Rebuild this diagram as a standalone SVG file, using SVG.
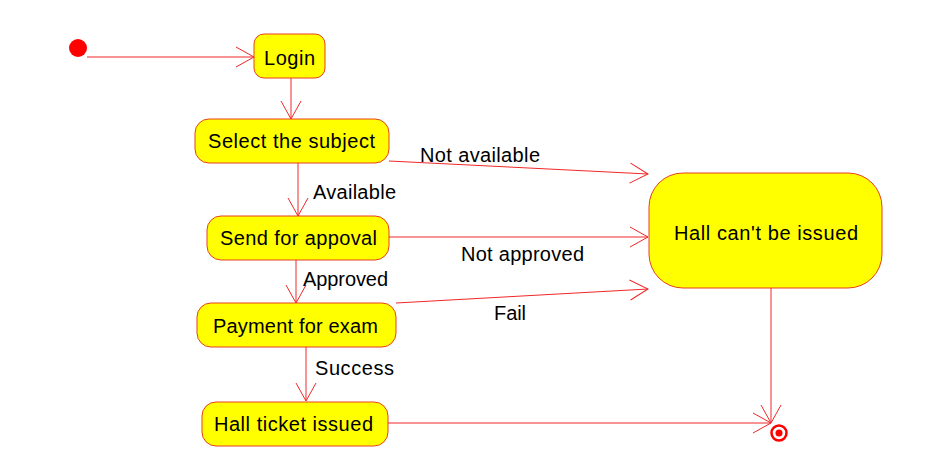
<svg xmlns="http://www.w3.org/2000/svg" width="926" height="468" viewBox="0 0 926 468">
<style>
.st{fill:#ffff00;stroke:#e8401c;stroke-width:1}
.t{font-family:"Liberation Sans",Arial,sans-serif;font-size:20px;fill:#000}
.c{stroke:#f02828;stroke-width:1;fill:none}
</style>
<defs>
<marker id="ah" markerUnits="userSpaceOnUse" viewBox="-20 -12 22 24" refX="0" refY="0" markerWidth="22" markerHeight="24" orient="auto">
<path d="M-18,-10 L0,0 L-18,10" fill="none" stroke="#f02828" stroke-width="1"/>
</marker>
</defs>
<rect width="926" height="468" fill="#fff"/>
<g id="initial"><circle cx="78" cy="48" r="9" fill="#ff0000"/></g>
<g id="login"><rect class="st" x="254" y="34" width="71" height="44" rx="10"/><text class="t" x="264" y="65" textLength="51" lengthAdjust="spacing">Login</text></g>
<g id="select"><rect class="st" x="195" y="119" width="194" height="44" rx="14"/><text class="t" x="208" y="148" textLength="167" lengthAdjust="spacing">Select the subject</text></g>
<g id="send"><rect class="st" x="207" y="216" width="182" height="44" rx="14"/><text class="t" x="220" y="245" textLength="157" lengthAdjust="spacing">Send for appoval</text></g>
<g id="payment"><rect class="st" x="197" y="303" width="199" height="44" rx="14"/><text class="t" x="213" y="333" textLength="165" lengthAdjust="spacing">Payment for exam</text></g>
<g id="hallticket"><rect class="st" x="202" y="402" width="186" height="44" rx="14"/><text class="t" x="214" y="431" textLength="159" lengthAdjust="spacing">Hall ticket issued</text></g>
<g id="hallcant"><rect class="st" x="649" y="173" width="233" height="115" rx="34"/><text class="t" x="674" y="240" textLength="184" lengthAdjust="spacing">Hall can't be issued</text></g>
<g id="final"><circle cx="779" cy="433" r="7.5" fill="none" stroke="#ff0000" stroke-width="2.5"/><circle cx="779" cy="433" r="3.5" fill="#ff0000"/></g>
<g id="connectors">
<path class="c" d="M87,57 L254,57" marker-end="url(#ah)"/>
<path class="c" d="M291,78 L291,119" marker-end="url(#ah)"/>
<path class="c" d="M298,163 L298,216" marker-end="url(#ah)"/>
<path class="c" d="M296,260 L296,303" marker-end="url(#ah)"/>
<path class="c" d="M306,347 L306,401" marker-end="url(#ah)"/>
<path class="c" d="M389,161 L648,174" marker-end="url(#ah)"/>
<path class="c" d="M389,237 L648,237" marker-end="url(#ah)"/>
<path class="c" d="M396,303 L648,289" marker-end="url(#ah)"/>
<path class="c" d="M388,423 L771,423" marker-end="url(#ah)"/>
<path class="c" d="M771,288 L771,423" marker-end="url(#ah)"/>
<text class="t" x="313" y="199" textLength="83" lengthAdjust="spacing">Available</text>
<text class="t" x="303" y="286" textLength="85" lengthAdjust="spacing">Approved</text>
<text class="t" x="315" y="375" textLength="79" lengthAdjust="spacing">Success</text>
<text class="t" x="420" y="162" textLength="120" lengthAdjust="spacing">Not available</text>
<text class="t" x="461" y="261" textLength="123" lengthAdjust="spacing">Not approved</text>
<text class="t" x="494" y="320" textLength="32" lengthAdjust="spacing">Fail</text>
</g>
</svg>
